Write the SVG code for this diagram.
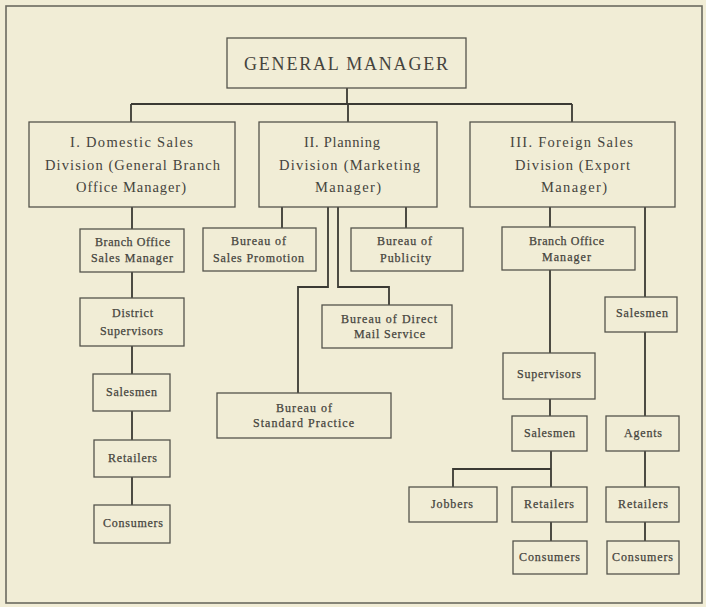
<svg xmlns="http://www.w3.org/2000/svg" width="706" height="607" viewBox="0 0 706 607">
  <style>
    .box { fill: none; stroke: #55544c; stroke-width: 1.3; }
    .wire { fill: none; stroke: #3b3a34; stroke-width: 1.8; }
    .frame { fill: none; stroke: #6b6a60; stroke-width: 1.6; }
    text { font-family: "Liberation Serif", "Times New Roman", serif; fill: #45443d; text-anchor: middle; }
    .top { font-size: 18px; }
    .div { font-size: 14.5px; }
    .sm { font-size: 12px; stroke: #45443d; stroke-width: 0.25; }
  </style>
  <rect x="0" y="0" width="706" height="607" fill="#f1edd6"/>
  <rect class="frame" x="6" y="6" width="696" height="597"/>

  <!-- reporting lines -->
  <g id="connectors">
    <path class="wire" d="M347 88 V104 M131 104 H572 M131 104 V122 M348 104 V122 M572 104 V122"/>
    <path class="wire" d="M132 207 V229 M132 272 V298 M132 346 V374 M132 411 V440 M132 477 V505"/>
    <path class="wire" d="M282 207 V228 M406 207 V228"/>
    <path class="wire" d="M328 207 V287 H298 V393"/>
    <path class="wire" d="M338 207 V287 H389 V305"/>
    <path class="wire" d="M550 207 V227 M550 270 V353 M550 399 V416 M551 451 V487 M551 469 H453 V487 M551 522 V541"/>
    <path class="wire" d="M645 207 V297 M645 332 V416 M645 451 V487 M645 522 V541"/>
  </g>

  <g id="general-manager">
    <rect class="box" x="227" y="38" width="239" height="50"/>
    <text class="top" x="346" y="70" textLength="204" lengthAdjust="spacing">GENERAL MANAGER</text>
  </g>

  <g id="domestic-sales">
    <rect class="box" x="29" y="122" width="206" height="85"/>
    <text class="div" x="131.5" y="147" textLength="123" lengthAdjust="spacing">I. Domestic Sales</text>
    <text class="div" x="132.5" y="170" textLength="175" lengthAdjust="spacing">Division (General Branch</text>
    <text class="div" x="131" y="192" textLength="110" lengthAdjust="spacing">Office Manager)</text>
  </g>

  <g id="planning">
    <rect class="box" x="259" y="122" width="178" height="85"/>
    <text class="div" x="342" y="147" textLength="76" lengthAdjust="spacing">II. Planning</text>
    <text class="div" x="349.5" y="170" textLength="141" lengthAdjust="spacing">Division (Marketing</text>
    <text class="div" x="348" y="192" textLength="66" lengthAdjust="spacing">Manager)</text>
  </g>

  <g id="foreign-sales">
    <rect class="box" x="470" y="122" width="205" height="85"/>
    <text class="div" x="571.5" y="147" textLength="123" lengthAdjust="spacing">III. Foreign Sales</text>
    <text class="div" x="572.5" y="170" textLength="115" lengthAdjust="spacing">Division (Export</text>
    <text class="div" x="574" y="192" textLength="66" lengthAdjust="spacing">Manager)</text>
  </g>

  <!-- domestic chain -->
  <g id="branch-office-sales-manager">
    <rect class="box" x="80" y="229" width="104" height="43"/>
    <text class="sm" x="132.5" y="246" textLength="75" lengthAdjust="spacing">Branch Office</text>
    <text class="sm" x="132" y="262" textLength="82" lengthAdjust="spacing">Sales Manager</text>
  </g>
  <g id="district-supervisors">
    <rect class="box" x="80" y="298" width="104" height="48"/>
    <text class="sm" x="132.5" y="317" textLength="41" lengthAdjust="spacing">District</text>
    <text class="sm" x="131.5" y="335" textLength="63" lengthAdjust="spacing">Supervisors</text>
  </g>
  <g id="domestic-salesmen">
    <rect class="box" x="93" y="374" width="77" height="37"/>
    <text class="sm" x="131.5" y="396" textLength="51" lengthAdjust="spacing">Salesmen</text>
  </g>
  <g id="domestic-retailers">
    <rect class="box" x="94" y="440" width="76" height="37"/>
    <text class="sm" x="132.5" y="462" textLength="49" lengthAdjust="spacing">Retailers</text>
  </g>
  <g id="domestic-consumers">
    <rect class="box" x="94" y="505" width="76" height="38"/>
    <text class="sm" x="133" y="527" textLength="60" lengthAdjust="spacing">Consumers</text>
  </g>

  <!-- planning bureaus -->
  <g id="bureau-sales-promotion">
    <rect class="box" x="203" y="228" width="113" height="43"/>
    <text class="sm" x="258.5" y="245" textLength="55" lengthAdjust="spacing">Bureau of</text>
    <text class="sm" x="258.5" y="262" textLength="91" lengthAdjust="spacing">Sales Promotion</text>
  </g>
  <g id="bureau-publicity">
    <rect class="box" x="351" y="228" width="112" height="43"/>
    <text class="sm" x="404.5" y="245" textLength="55" lengthAdjust="spacing">Bureau of</text>
    <text class="sm" x="405.5" y="262" textLength="51" lengthAdjust="spacing">Publicity</text>
  </g>
  <g id="bureau-direct-mail">
    <rect class="box" x="322" y="305" width="130" height="43"/>
    <text class="sm" x="389" y="323" textLength="96" lengthAdjust="spacing">Bureau of Direct</text>
    <text class="sm" x="389.5" y="338" textLength="71" lengthAdjust="spacing">Mail Service</text>
  </g>
  <g id="bureau-standard-practice">
    <rect class="box" x="217" y="393" width="174" height="45"/>
    <text class="sm" x="304" y="412" textLength="56" lengthAdjust="spacing">Bureau of</text>
    <text class="sm" x="303.5" y="427" textLength="101" lengthAdjust="spacing">Standard Practice</text>
  </g>

  <!-- foreign chain -->
  <g id="branch-office-manager">
    <rect class="box" x="502" y="227" width="133" height="43"/>
    <text class="sm" x="566.5" y="245" textLength="75" lengthAdjust="spacing">Branch Office</text>
    <text class="sm" x="566.5" y="261" textLength="49" lengthAdjust="spacing">Manager</text>
  </g>
  <g id="foreign-supervisors">
    <rect class="box" x="503" y="353" width="92" height="46"/>
    <text class="sm" x="549" y="378" textLength="64" lengthAdjust="spacing">Supervisors</text>
  </g>
  <g id="foreign-salesmen">
    <rect class="box" x="512" y="416" width="75" height="35"/>
    <text class="sm" x="549.5" y="437" textLength="51" lengthAdjust="spacing">Salesmen</text>
  </g>
  <g id="jobbers">
    <rect class="box" x="409" y="487" width="88" height="35"/>
    <text class="sm" x="452" y="508" textLength="42" lengthAdjust="spacing">Jobbers</text>
  </g>
  <g id="foreign-retailers">
    <rect class="box" x="512" y="487" width="75" height="35"/>
    <text class="sm" x="549" y="508" textLength="50" lengthAdjust="spacing">Retailers</text>
  </g>
  <g id="foreign-consumers">
    <rect class="box" x="513" y="541" width="74" height="33"/>
    <text class="sm" x="549.5" y="561" textLength="61" lengthAdjust="spacing">Consumers</text>
  </g>

  <!-- export salesmen chain -->
  <g id="export-salesmen">
    <rect class="box" x="605" y="297" width="72" height="35"/>
    <text class="sm" x="642" y="317" textLength="52" lengthAdjust="spacing">Salesmen</text>
  </g>
  <g id="agents">
    <rect class="box" x="606" y="416" width="73" height="35"/>
    <text class="sm" x="643" y="437" textLength="38" lengthAdjust="spacing">Agents</text>
  </g>
  <g id="export-retailers">
    <rect class="box" x="606" y="487" width="73" height="35"/>
    <text class="sm" x="643" y="508" textLength="50" lengthAdjust="spacing">Retailers</text>
  </g>
  <g id="export-consumers">
    <rect class="box" x="607" y="541" width="72" height="33"/>
    <text class="sm" x="642.5" y="561" textLength="61" lengthAdjust="spacing">Consumers</text>
  </g>
</svg>
